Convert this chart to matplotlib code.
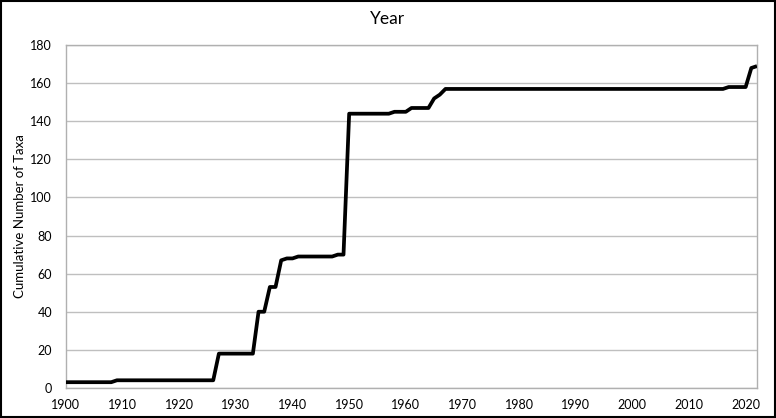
import matplotlib
matplotlib.use("Agg")
import matplotlib.pyplot as plt
from matplotlib.patches import Rectangle

# cumulative taxa (year where the count changes / plateau ends)
years = [1900, 1908, 1909, 1926, 1927, 1933, 1934, 1935, 1936, 1937, 1938, 1939,
         1940, 1941, 1947, 1948, 1949, 1950, 1957, 1958, 1960, 1961, 1964, 1965,
         1966, 1967, 2016, 2017, 2020, 2021, 2022]
counts = [3, 3, 4, 4, 18, 18, 40, 40, 53, 53, 67, 68,
          68, 69, 69, 70, 70, 144, 144, 145, 145, 147, 147, 152,
          154, 157, 157, 158, 158, 168, 169]

x_ticks = list(range(1900, 2021, 10))
y_ticks = list(range(0, 181, 20))

plt.rcParams['font.family'] = ['Lato', 'DejaVu Sans']

fig = plt.figure(figsize=(7.76, 4.18), dpi=100)
ax = fig.add_axes([0.085, 0.072, 0.8905, 0.82])

ax.plot(years, counts, color='black', linewidth=2.7, solid_joinstyle='round',
        solid_capstyle='butt', zorder=3)

ax.set_xlim(1900, 2022)
ax.set_ylim(0, 180)
ax.set_xticks(x_ticks)
ax.set_yticks(y_ticks)
ax.tick_params(length=0, labelsize=9, colors='black', pad=8)
ax.tick_params(axis='y', pad=10)
ax.grid(axis='y', color='#bfbfbf', linewidth=1)
ax.set_axisbelow(True)
for s in ax.spines.values():
    s.set_color('#b0b0b0')
    s.set_linewidth(1)

ax.set_ylabel('Cumulative Number of Taxa', fontsize=9.5, labelpad=3)
fig.text(0.5, 0.955, 'Year', ha='center', va='center', fontsize=12.5)

# border around the whole chart
fig.add_artist(Rectangle((0.0015, 0.002), 0.997, 0.996, transform=fig.transFigure,
                         fill=False, edgecolor='black', linewidth=1.5))

fig.savefig('out.png', dpi=100)
